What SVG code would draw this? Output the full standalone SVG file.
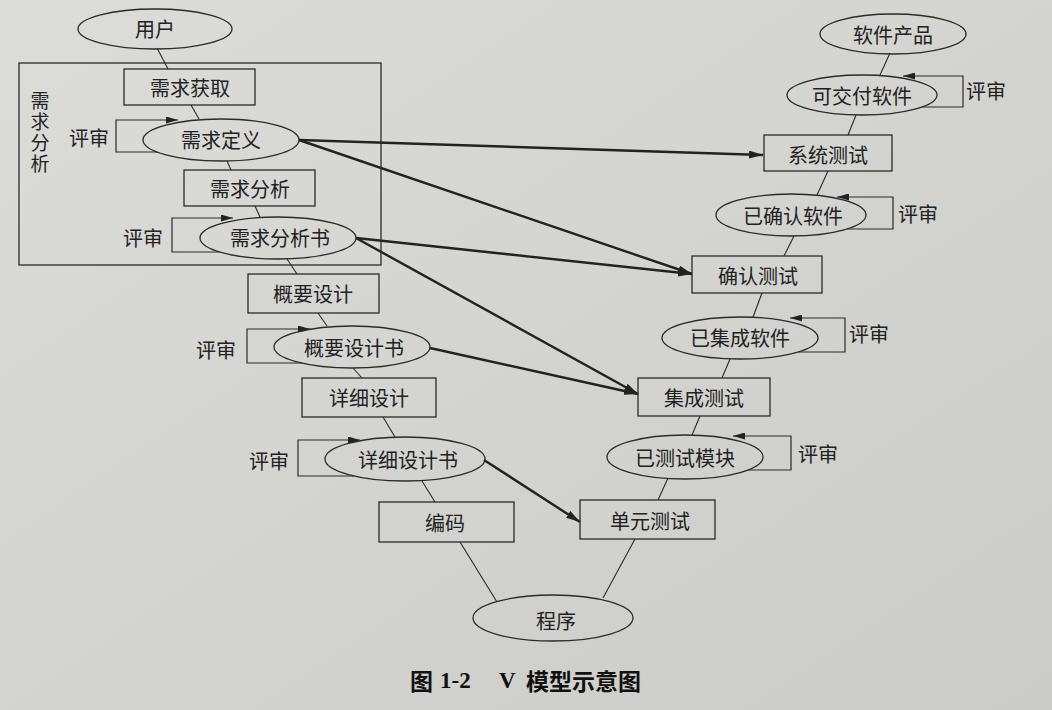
<svg xmlns="http://www.w3.org/2000/svg" width="1052" height="710" viewBox="0 0 1052 710">
<defs>
<linearGradient id="bg" x1="0" y1="0" x2="1" y2="1">
<stop offset="0" stop-color="#dcdcd9"/>
<stop offset="1" stop-color="#cbcbc7"/>
</linearGradient>
<marker id="big" viewBox="0 0 14 8" refX="14" refY="4" markerWidth="14" markerHeight="8" markerUnits="userSpaceOnUse" orient="auto">
<path d="M0,0 L14,4 L0,8 Z" fill="#222"/>
</marker>
<marker id="small" viewBox="0 0 12 7" refX="12" refY="3.5" markerWidth="12" markerHeight="7" markerUnits="userSpaceOnUse" orient="auto">
<path d="M0,0 L12,3.5 L0,7 Z" fill="#222"/>
</marker>
</defs>
<style>
.box{fill:none;stroke:#2a2a2a;stroke-width:1.3}
.ell{fill:none;stroke:#2a2a2a;stroke-width:1.3}
.t{font-family:"Noto Sans CJK SC","Noto Sans CJK JP",sans-serif;font-size:20px;fill:#222;text-anchor:middle;dominant-baseline:central}
.v{font-family:"Noto Sans CJK SC","Noto Sans CJK JP",sans-serif;font-size:19px;fill:#222;writing-mode:tb;letter-spacing:2px}
.thin{fill:none;stroke:#2a2a2a;stroke-width:1.1}
.loop{fill:none;stroke:#2a2a2a;stroke-width:1.2}
.thick{fill:none;stroke:#222;stroke-width:2.4}
.cap{font-family:"Liberation Serif","Noto Sans CJK SC",serif;font-size:23px;font-weight:bold;fill:#111;dominant-baseline:central}
.capc{font-family:"Noto Sans CJK SC",sans-serif;font-size:23px;font-weight:bold;fill:#111;dominant-baseline:central}
</style>
<rect width="1052" height="710" fill="url(#bg)"/>

<g id="connectors">
<path class="thin" d="M157,48 L168,69"/>
<path class="thin" d="M191,105 L199,119"/>
<path class="thin" d="M227,161 L231,170"/>
<path class="thin" d="M255,206 L260,217"/>
<path class="thin" d="M287,259 L297,274"/>
<path class="thin" d="M318,313 L327,326"/>
<path class="thin" d="M353,368 L362,378"/>
<path class="thin" d="M383,417 L395,437"/>
<path class="thin" d="M422,481 L435,502"/>
<path class="thin" d="M460,542 L497,602"/>
<path class="thin" d="M603,598 L635,539"/>
<path class="thin" d="M658,500 L668,478"/>
<path class="thin" d="M692,435 L700,416"/>
<path class="thin" d="M722,378 L730,359"/>
<path class="thin" d="M753,317 L762,293"/>
<path class="thin" d="M784,256 L794,236"/>
<path class="thin" d="M817,195 L828,171"/>
<path class="thin" d="M848,135 L856,115"/>
<path class="thin" d="M880,75 L890,53"/>
<path class="thick" d="M299,140 L763,155" marker-end="url(#big)"/>
<path class="thick" d="M299,140 L692,274" marker-end="url(#big)"/>
<path class="thick" d="M356,238 L692,274" marker-end="url(#big)"/>
<path class="thick" d="M356,238 L638,394" marker-end="url(#big)"/>
<path class="thick" d="M430,348 L638,394" marker-end="url(#big)"/>
<path class="thick" d="M484,460 L580,522" marker-end="url(#big)"/>
<path class="loop" d="M157,152 H116 V120 H178" marker-end="url(#small)"/>
<path class="loop" d="M220,252 H172 V218 H233" marker-end="url(#small)"/>
<path class="loop" d="M302,363 H247 V329 H310" marker-end="url(#small)"/>
<path class="loop" d="M354,476 H298 V440 H360" marker-end="url(#small)"/>
<path class="loop" d="M922,107 H963 V76 H903" marker-end="url(#small)"/>
<path class="loop" d="M847,229 H893 V197 H837" marker-end="url(#small)"/>
<path class="loop" d="M798,352 H845 V318 H790" marker-end="url(#small)"/>
<path class="loop" d="M748,470 H791 V436 H733" marker-end="url(#small)"/>
</g>

<g id="phase-box">
<rect class="box" x="19" y="63" width="362" height="202"/>
<text class="v" x="40" y="91">需求分析</text>
</g>

<g id="user"><ellipse class="ell" cx="155" cy="29" rx="77" ry="20"/><text class="t" x="155" y="28">用户</text></g>
<g id="req-get"><rect class="box" x="124" y="69" width="131" height="36"/><text class="t" x="190" y="87">需求获取</text></g>
<g id="req-def"><ellipse class="ell" cx="221" cy="140" rx="78" ry="21"/><text class="t" x="221" y="139">需求定义</text><text class="t" x="89" y="137">评审</text></g>
<g id="req-ana"><rect class="box" x="184" y="170" width="131" height="36"/><text class="t" x="250" y="188">需求分析</text></g>
<g id="req-doc"><ellipse class="ell" cx="278" cy="238" rx="78" ry="21"/><text class="t" x="280" y="237">需求分析书</text><text class="t" x="143" y="237">评审</text></g>
<g id="hl-design"><rect class="box" x="248" y="274" width="131" height="39"/><text class="t" x="313" y="293">概要设计</text></g>
<g id="hl-doc"><ellipse class="ell" cx="352" cy="347" rx="78" ry="21"/><text class="t" x="354" y="347">概要设计书</text><text class="t" x="216" y="349">评审</text></g>
<g id="dt-design"><rect class="box" x="302" y="378" width="134" height="39"/><text class="t" x="369" y="397">详细设计</text></g>
<g id="dt-doc"><ellipse class="ell" cx="405" cy="459" rx="80" ry="22"/><text class="t" x="408" y="459">详细设计书</text><text class="t" x="269" y="460">评审</text></g>
<g id="coding"><rect class="box" x="379" y="502" width="135" height="40"/><text class="t" x="445" y="522">编码</text></g>
<g id="program"><ellipse class="ell" cx="553" cy="618" rx="80" ry="23"/><text class="t" x="556" y="620">程序</text></g>
<g id="unit-test"><rect class="box" x="580" y="500" width="135" height="39"/><text class="t" x="650" y="520">单元测试</text></g>
<g id="tested-mod"><ellipse class="ell" cx="685" cy="457" rx="78" ry="22"/><text class="t" x="685" y="457">已测试模块</text><text class="t" x="818" y="453">评审</text></g>
<g id="int-test"><rect class="box" x="638" y="378" width="132" height="38"/><text class="t" x="704" y="397">集成测试</text></g>
<g id="int-sw"><ellipse class="ell" cx="740" cy="338" rx="78" ry="21"/><text class="t" x="740" y="337">已集成软件</text><text class="t" x="869" y="333">评审</text></g>
<g id="val-test"><rect class="box" x="692" y="256" width="130" height="37"/><text class="t" x="758" y="275">确认测试</text></g>
<g id="val-sw"><ellipse class="ell" cx="791" cy="215" rx="75" ry="21"/><text class="t" x="793" y="215">已确认软件</text><text class="t" x="918" y="213">评审</text></g>
<g id="sys-test"><rect class="box" x="764" y="135" width="128" height="36"/><text class="t" x="828" y="154">系统测试</text></g>
<g id="deliv-sw"><ellipse class="ell" cx="862" cy="95" rx="75" ry="20"/><text class="t" x="862" y="95">可交付软件</text><text class="t" x="986" y="90">评审</text></g>
<g id="product"><ellipse class="ell" cx="893" cy="34" rx="73" ry="20"/><text class="t" x="893" y="34">软件产品</text></g>

<g id="caption">
<text class="capc" x="410" y="680">图</text>
<text class="cap" x="440" y="680">1-2</text>
<text class="cap" x="499" y="680">V</text>
<text class="capc" x="526" y="680">模型示意图</text>
</g>
</svg>
